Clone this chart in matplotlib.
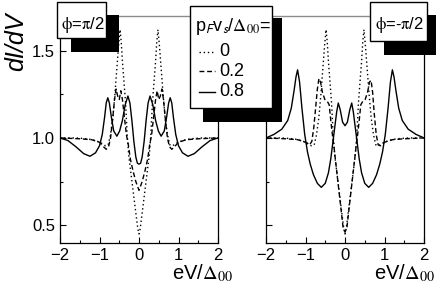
import matplotlib
matplotlib.use("Agg")
import matplotlib.pyplot as plt
from matplotlib.patches import Rectangle
from matplotlib.lines import Line2D

plt.rcParams['font.family'] = ['Liberation Sans', 'DejaVu Sans']
plt.rcParams['mathtext.fontset'] = 'stix'

W, H = 436, 288

# vs = 0 (same in both panels)
ev_vs0 = [-2.0, -1.6, -1.3, -1.1, -0.95, -0.85, -0.78, -0.72, -0.66, -0.61, -0.56, -0.52,
          -0.48, -0.45, -0.42, -0.38, -0.34, -0.30, -0.26, -0.20, -0.14, -0.08, -0.03, 0.0,
          0.03, 0.08, 0.14, 0.20, 0.26, 0.30, 0.34, 0.38, 0.42, 0.45, 0.48, 0.52, 0.56,
          0.61, 0.66, 0.72, 0.78, 0.85, 0.95, 1.1, 1.3, 1.6, 2.0]
didv_vs0 = [1.0, 1.0, 0.995, 0.985, 0.97, 0.955, 0.96, 1.02, 1.12, 1.25, 1.40, 1.52,
            1.62, 1.55, 1.44, 1.32, 1.2, 1.02, 0.90, 0.79, 0.68, 0.57, 0.48, 0.45,
            0.48, 0.57, 0.68, 0.79, 0.90, 1.02, 1.2, 1.32, 1.44, 1.55, 1.62, 1.52, 1.40,
            1.25, 1.12, 1.02, 0.96, 0.955, 0.97, 0.985, 0.995, 1.0, 1.0]

# phi = pi/2
ev_p_vs02 = [-2.0, -1.5, -1.2, -1.0, -0.9, -0.83, -0.77, -0.72, -0.67, -0.62, -0.58, -0.54,
             -0.50, -0.46, -0.42, -0.37, -0.32, -0.27, -0.22, -0.15, -0.08, 0.0,
             0.08, 0.15, 0.22, 0.27, 0.32, 0.37, 0.42, 0.46, 0.50, 0.54, 0.58, 0.62,
             0.67, 0.72, 0.77, 0.83, 0.9, 1.0, 1.2, 1.5, 2.0]
didv_p_vs02 = [1.0, 0.995, 0.99, 0.975, 0.95, 0.935, 0.95, 1.0, 1.1, 1.22, 1.28, 1.24,
               1.22, 1.27, 1.22, 1.12, 1.02, 0.96, 0.88, 0.81, 0.75, 0.70,
               0.75, 0.81, 0.88, 0.96, 1.02, 1.12, 1.22, 1.27, 1.22, 1.24, 1.28, 1.22,
               1.1, 1.0, 0.95, 0.935, 0.95, 0.975, 0.99, 0.995, 1.0]

ev_p_vs08 = [-2.0, -1.8, -1.6, -1.4, -1.24, -1.1, -1.0, -0.93, -0.87, -0.83, -0.79, -0.75,
             -0.70, -0.64, -0.56, -0.49, -0.42, -0.35, -0.28, -0.23, -0.18, -0.13, -0.08,
             -0.04, 0.0, 0.04, 0.08, 0.13, 0.18, 0.23, 0.28, 0.35, 0.42, 0.49, 0.56, 0.64,
             0.70, 0.75, 0.79, 0.83, 0.87, 0.93, 1.0, 1.1, 1.24, 1.4, 1.6, 1.8, 2.0]
didv_p_vs08 = [1.0, 0.985, 0.95, 0.91, 0.895, 0.915, 0.955, 1.02, 1.12, 1.2, 1.23, 1.2,
               1.12, 1.04, 1.01, 1.04, 1.1, 1.19, 1.24, 1.2, 1.1, 0.98, 0.89,
               0.855, 0.85, 0.855, 0.89, 0.98, 1.1, 1.2, 1.24, 1.19, 1.1, 1.04, 1.01, 1.04,
               1.12, 1.2, 1.23, 1.2, 1.12, 1.02, 0.955, 0.915, 0.895, 0.91, 0.95, 0.985, 1.0]

# phi = -pi/2
ev_m_vs02 = [-2.0, -1.5, -1.2, -1.0, -0.9, -0.84, -0.79, -0.74, -0.70, -0.66, -0.62, -0.57,
             -0.51, -0.45, -0.40, -0.36, -0.32, -0.28, -0.20, -0.12, -0.05, 0.0,
             0.05, 0.12, 0.20, 0.28, 0.32, 0.36, 0.40, 0.45, 0.51, 0.57, 0.62, 0.66,
             0.70, 0.74, 0.79, 0.84, 0.9, 1.0, 1.2, 1.5, 2.0]
didv_m_vs02 = [1.0, 0.995, 0.99, 0.975, 0.96, 0.98, 1.06, 1.18, 1.28, 1.34, 1.32, 1.26,
               1.22, 1.21, 1.19, 1.1, 1.02, 0.95, 0.79, 0.63, 0.49, 0.46,
               0.49, 0.63, 0.79, 0.95, 1.02, 1.1, 1.19, 1.21, 1.22, 1.26, 1.32, 1.33,
               1.26, 1.14, 1.02, 0.96, 0.955, 0.975, 0.99, 0.995, 1.0]

ev_m_vs08 = [-2.0, -1.8, -1.6, -1.45, -1.36, -1.29, -1.24, -1.2, -1.15, -1.09, -1.02, -0.95,
             -0.88, -0.8, -0.7, -0.6, -0.5, -0.42, -0.36, -0.31, -0.26, -0.21, -0.17,
             -0.12, -0.06, 0.0, 0.06, 0.12, 0.17, 0.21, 0.26, 0.31, 0.36, 0.42, 0.5, 0.6,
             0.7, 0.8, 0.88, 0.95, 1.02, 1.09, 1.15, 1.2, 1.24, 1.29, 1.36, 1.45, 1.6,
             1.8, 2.0]
didv_m_vs08 = [1.0, 1.02, 1.05, 1.1, 1.17, 1.27, 1.35, 1.39, 1.32, 1.17, 1.02, 0.92,
               0.85, 0.79, 0.74, 0.717, 0.74, 0.8, 0.88, 0.97, 1.06, 1.15, 1.20,
               1.16, 1.09, 1.07, 1.09, 1.16, 1.20, 1.15, 1.06, 0.97, 0.88, 0.8, 0.74, 0.717,
               0.74, 0.79, 0.85, 0.92, 1.02, 1.17, 1.32, 1.39, 1.35, 1.27, 1.17, 1.1, 1.05,
               1.02, 1.0]

vs_labels = ['0', '0.2', '0.8']
styles = [(0, (1, 2)), (0, (3.5, 2)), '-']
phi_labels = [r'$\mathrm{\phi}$=$\mathrm{\pi}$/2', r'$\mathrm{\phi}$=-$\mathrm{\pi}$/2']

panels = [
    [(ev_vs0, didv_vs0), (ev_p_vs02, didv_p_vs02), (ev_p_vs08, didv_p_vs08)],
    [(ev_vs0, didv_vs0), (ev_m_vs02, didv_m_vs02), (ev_m_vs08, didv_m_vs08)],
]


def fx(px):
    return px / W


def fy(py):
    return 1 - py / H


def box(fig, x0, y0, x1, y1, **kw):
    r = Rectangle((fx(x0), fy(y1)), (x1 - x0) / W, (y1 - y0) / H,
                  transform=fig.transFigure, **kw)
    fig.add_artist(r)


fig = plt.figure(figsize=(W / 100, H / 100), dpi=100)
lefts = [60, 266]
for i, left in enumerate(lefts):
    ax = fig.add_axes([fx(left), fy(242.7), 158 / W, (242.7 - 15.7) / H])
    for (ev, g), ls in zip(panels[i], styles):
        ax.plot(ev, g, color='k', lw=1.0, linestyle=ls)
    ax.set_xlim(-2, 2)
    ax.set_ylim(0.4, 1.7)
    ax.set_xticks([-2, -1, 0, 1, 2])
    ax.set_xticks([-1.5, -0.5, 0.5, 1.5], minor=True)
    ax.set_yticks([0.5, 1.0, 1.5])
    ax.set_yticks([0.75, 1.25], minor=True)
    ax.tick_params(which='both', direction='in', top=False, right=False,
                   width=0.8, labelsize=12)
    ax.tick_params(which='major', length=4.3)
    ax.tick_params(which='minor', length=2.5)
    for s in ['left', 'bottom', 'right']:
        ax.spines[s].set_linewidth(0.9)
    ax.spines['top'].set_color('0.55')
    ax.spines['top'].set_linewidth(1.0)
    if i == 0:
        ax.set_yticklabels(['0.5', '1.0', '1.5'])
    else:
        ax.set_yticklabels([])

# axis labels
fig.text(fx(16), fy(42), 'dI/dV', rotation=90, fontsize=18, style='italic',
         ha='center', va='center')
for cx in [202, 404]:
    fig.text(fx(cx), fy(279.5), r'eV/$\Delta_{00}$', fontsize=14.5,
             ha='center', va='baseline')

# phi boxes with shadows
phi_boxes = [(57, 2, 106, 38), (370, 2, 427, 41)]
for (x0, y0, x1, y1), lab in zip(phi_boxes, phi_labels):
    box(fig, x0 + 14, y0 + 13, x1 + 13, y1 + 14, facecolor='k', edgecolor='none', zorder=10)
    box(fig, x0, y0, x1, y1, facecolor='white', edgecolor='k', lw=1.0, zorder=11)
    fig.text(fx((x0 + x1) / 2 + 1), fy(25), lab, fontsize=12, ha='center', va='center',
             zorder=12)

# legend with shadow
box(fig, 203, 18, 282, 122, facecolor='k', edgecolor='none', zorder=10)
box(fig, 190, 6, 272, 108, facecolor='white', edgecolor='k', lw=1.0, zorder=11)
fig.text(fx(195), fy(31), r'p$_\mathsf{F}$v$_\mathsf{s}$/$\Delta_{00}$=', fontsize=13,
         ha='left', va='baseline', zorder=12)
for row, (lab, ls) in zip([52, 71, 92], zip(vs_labels, styles)):
    fig.add_artist(Line2D([fx(199), fx(215)], [fy(row), fy(row)], transform=fig.transFigure,
                          color='k', lw=1.0, linestyle=ls, zorder=12))
    fig.text(fx(219), fy(row), lab, fontsize=13, ha='left', va='center', zorder=12)

fig.savefig('out.png', dpi=100)
